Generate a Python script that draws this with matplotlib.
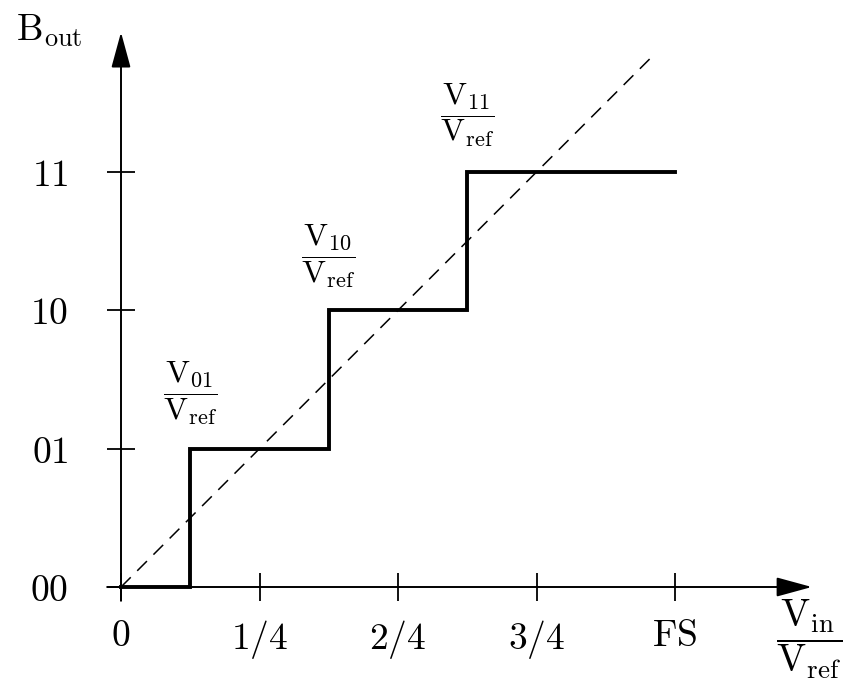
import matplotlib
matplotlib.use("Agg")
import matplotlib.pyplot as plt

plt.rcParams["mathtext.fontset"] = "cm"
plt.rcParams["font.family"] = "serif"
plt.rcParams["font.serif"] = ["DejaVu Serif"]

# transfer characteristic of a 2-bit ADC
step_x = [0, 0.125, 0.375, 0.625, 1.0]
step_code = [0, 1, 2, 3, 3]
ideal_x = [0, 0.955]
ideal_y = [0, 3.82]

x_ticks = [0, 0.25, 0.5, 0.75, 1.0]
x_labels = ["0", "1/4", "2/4", "3/4", "FS"]
y_ticks = [0, 1, 2, 3]
y_labels = ["00", "01", "10", "11"]

thr_x = [0.125, 0.375, 0.625]
thr_y = [1.40, 2.395, 3.41]
thr_names = ["01", "10", "11"]

W, H = 844, 680
X0, Y0 = 121, 93          # origin in pixels (from bottom-left)
SX, SY = 554.0, 138.33    # pixels per unit

fig = plt.figure(figsize=(W / 100, H / 100), dpi=100)
ax = fig.add_axes([0, 0, 1, 1])
ax.set_xlim(-X0 / SX, (W - X0) / SX)
ax.set_ylim(-Y0 / SY, (H - Y0) / SY)

for s in ["top", "right"]:
    ax.spines[s].set_visible(False)
ax.spines["bottom"].set_position(("data", 0))
ax.spines["left"].set_position(("data", 0))
ax.spines["bottom"].set_visible(False)
ax.spines["left"].set_visible(False)

ax.set_xticks(x_ticks)
ax.set_xticklabels([r"$\mathrm{%s}$" % t for t in x_labels])
ax.set_yticks(y_ticks)
ax.set_yticklabels([r"$\mathrm{%s}$" % t for t in y_labels])
ax.tick_params(direction="inout", length=20, width=1.3, labelsize=27)
ax.tick_params(axis="x", pad=12)
ax.tick_params(axis="y", pad=28)

# axes with arrow heads
arr = dict(arrowstyle="-|>,head_length=1.1,head_width=0.3", lw=1.4,
           color="black", shrinkA=0, shrinkB=0, mutation_scale=20)
ax.annotate("", xy=(1.247, 0), xytext=(-0.025, 0), arrowprops=arr)
ax.annotate("", xy=(0, 4.01), xytext=(0, -0.1), arrowprops=arr)

ax.plot(ideal_x, ideal_y, color="black", lw=1.1, ls=(0, (9, 6)))
ax.step(step_x, step_code, where="post", color="black", lw=2.8,
        solid_joinstyle="miter")

for x, y, n in zip(thr_x, thr_y, thr_names):
    ax.text(x, y, r"$\dfrac{\mathrm{V_{%s}}}{\mathrm{V_{ref}}}$" % n,
            ha="center", va="center", fontsize=23)

ax.text(1.243, -0.38, r"$\dfrac{\mathrm{V_{in}}}{\mathrm{V_{ref}}}$",
        ha="center", va="center", fontsize=28)
ax.text(-0.129, 4.02, r"$\mathrm{B_{out}}$", ha="center", va="center",
        fontsize=27)

fig.savefig("out.png", dpi=100)
